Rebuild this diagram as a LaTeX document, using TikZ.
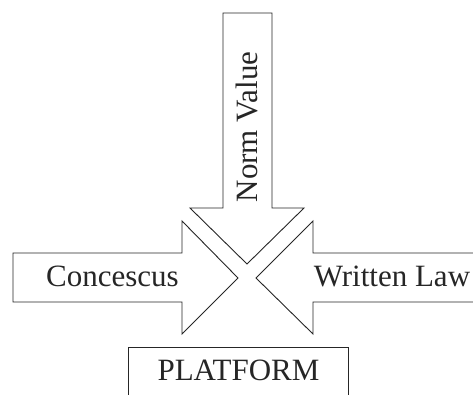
\documentclass[tikz,border=0pt]{standalone}
\usepackage{fontspec}
\setmainfont{Liberation Serif}
\begin{document}
\begin{tikzpicture}[x=1pt,y=1pt,
  arrowshape/.style={draw=black!85,line width=0.9pt,line join=miter,fill=white},
  lbl/.style={inner sep=0pt,anchor=base,font=\fontsize{31}{37}\selectfont,text=black!85}]
\useasboundingbox (0,0) rectangle (473,394);
\clip (0,0) rectangle (473,394);
% top arrow (Norm Value)
\draw[arrowshape] (223,381) -- (272,381) -- (272,186) -- (304,186) -- (247,130) -- (190,186) -- (223,186) -- cycle;
% left arrow (Concescus)
\draw[arrowshape] (13,141) -- (182,141) -- (182,173) -- (238,116) -- (182,60) -- (182,92) -- (13,92) -- cycle;
% right arrow (Written Law)
\draw[arrowshape] (480,141) -- (313,141) -- (313,173) -- (256,116) -- (313,60) -- (313,92) -- (480,92);
% platform box
\draw[arrowshape] (128,-10) -- (128,47) -- (348,47) -- (348,-10);
\node[lbl,rotate=90] (norm) at (257,267) {Norm Value};
\node[lbl] (cons) at (112.5,108) {Concescus};
\node[lbl] (law) at (392,108) {Written Law};
\node[lbl] (plat) at (238.5,14) {PLATFORM};
\end{tikzpicture}
\end{document}
